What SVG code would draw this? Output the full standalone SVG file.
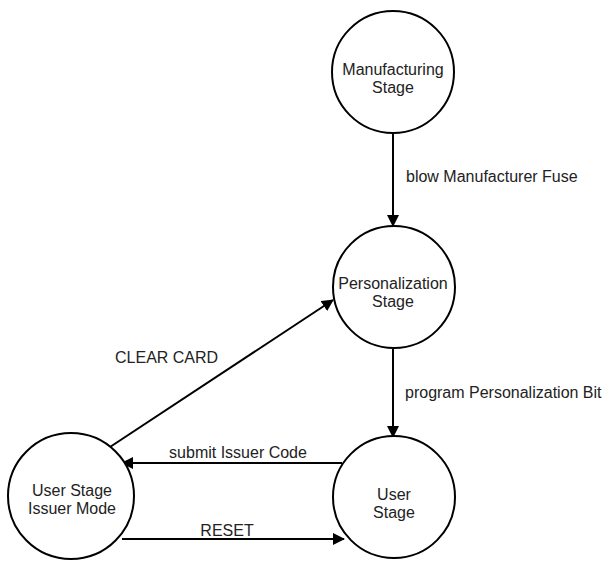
<svg xmlns="http://www.w3.org/2000/svg" width="606" height="561" viewBox="0 0 606 561">
<defs>
<marker id="ah" markerWidth="12" markerHeight="12" viewBox="0 0 12 12" refX="11" refY="6" orient="auto" markerUnits="userSpaceOnUse">
<path d="M0,0 L12,6 L0,12 Z" fill="#000"/>
</marker>
<style>
.node{fill:#fff;stroke:#000;stroke-width:2}
.t{font-family:"Liberation Sans",Arial,sans-serif;font-size:16px;fill:#222}
.c{text-anchor:middle}
.e{fill:none;stroke:#000;stroke-width:2;marker-end:url(#ah)}
</style>
</defs>
<rect width="606" height="561" fill="#fff"/>
<g id="connectors">
<line class="e" x1="393" y1="133" x2="393" y2="226"/>
<line class="e" x1="393" y1="349" x2="393" y2="437"/>
<line class="e" x1="110" y1="447" x2="333" y2="300"/>
<line class="e" x1="342" y1="463" x2="122" y2="463"/>
<line class="e" x1="122" y1="539" x2="344" y2="539"/>
<text class="t" x="406" y="182">blow Manufacturer Fuse</text>
<text class="t" x="405" y="398">program Personalization Bit</text>
<text class="t" x="115" y="363">CLEAR CARD</text>
<text class="t c" x="238" y="458">submit Issuer Code</text>
<text class="t c" x="227" y="536">RESET</text>
</g>
<g id="manufacturing">
<circle class="node" cx="393" cy="72" r="61"/>
<text class="t c" x="393" y="75">Manufacturing</text>
<text class="t c" x="393" y="93">Stage</text>
</g>
<g id="personalization">
<circle class="node" cx="394" cy="287" r="61"/>
<text class="t c" x="393" y="289">Personalization</text>
<text class="t c" x="393" y="307">Stage</text>
</g>
<g id="user">
<circle class="node" cx="394" cy="497" r="61"/>
<text class="t c" x="394" y="500">User</text>
<text class="t c" x="394" y="518">Stage</text>
</g>
<g id="issuer">
<circle class="node" cx="71" cy="496" r="63"/>
<text class="t c" x="72" y="496">User Stage</text>
<text class="t c" x="72" y="514">Issuer Mode</text>
</g>
</svg>
